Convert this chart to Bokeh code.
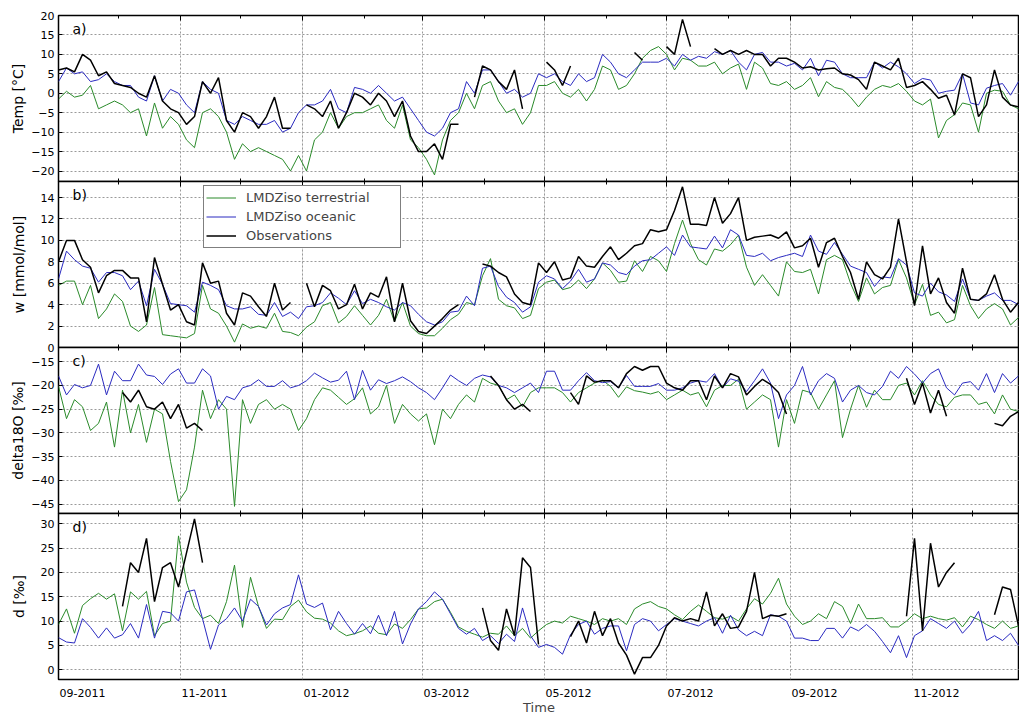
import pandas as pd
from bokeh.plotting import figure
from bokeh.layouts import column
from bokeh.models import (Range1d, FixedTicker, Grid, Legend, LegendItem, Label,
                          CustomJSTickFormatter, LinearAxis)
from bokeh.embed import file_html
from bokeh.resources import INLINE

nan = float("nan")

# sampling dates (every 4 days from 1 Sep 2011)
dates = pd.date_range("2011-09-01", periods=121, freq="4D")

# ---- panel a: temperature [degC]
temp_obs = ([6, 6.5, 5.5, 10, 8.5, 4.5, 5.5, 2.5, 2, 1.5,
             0, -1, 4.5, -2, -4, -5, -8, -6, 3, 0,
             4, -7, -10, -5, -6, -9, -6, -1, -9, -9,
             nan, -3, -4, -6, -2, -9, -5, 0, -1, -3,
             0, -2, -6, -2, -11, -15, -15, -13, -17, -8,
             -8, nan, -1, 7, 6, 3, 1, 6, -4, nan,
             nan, 8, 6, 2, 7, nan, nan, nan, nan, nan,
             nan, nan, 10.5, 8.5, nan, nan, 12, 10, 19, 12,
             nan, nan, 11.5, 10, 11, 10, 11, 10, 10, 7,
             9, 9, 8, 6.5, 6.8, 6, 6.3, 6.5, 5, 4.7,
             3.5, 1, 8, 7, 6, 9, 1.5, 2, 3, 1,
             -1.3, -0.5, -5.6, 5, 4, -6, -3, 6, -1, -3,
             -3.5])
temp_ocean = [3, 6.5, 5, 5.5, 3, 3.5, 5, 3, 2, 2,
              -1, -2, 4.5, -2, 1, 0, -3, -5, 3, 1,
              0, -7, -8, -6, -7, -8, -8, -7, -10, -9,
              -5, -3, -3, -2, 1, -4, -5, 1.5, 1, 0,
              2, 0, -2, -1, -4, -7, -10, -11, -9, -5,
              -4, 3, 0, 6, 6, 3, 0, 1, -1, 0,
              5, 4, 5, 3, 2, 5, 3, 4, 10, 8,
              5, 4, 6, 8, 8, 8, 9, 7, 10, 8.5,
              9.5, 9, 10.7, 10, 11, 8, 6, 10, 10.5, 8,
              8, 7, 7.7, 6, 9, 4.5, 8.5, 8, 5, 4,
              4, 4, 8, 6.5, 8, 6.8, 5, 2.5, 3.8, 3.4,
              0, 0.5, 0.8, 5, -2.5, -3, 1.3, 2, 2.5, -0.5,
              3]
temp_terr = [-1.5, 0.5, -1, -0.5, 2, -4, -3, -2, -3, -5,
             -4, -11, -2.5, -9, -6, -8, -12, -14, -5, -4,
             -6, -10, -17, -13, -15, -14, -15, -16, -17, -20,
             -16, -20, -12, -10, -5, -9, -6, -5, -5, -4,
             -3, -7, -9, -3, -12, -14, -17, -21, -12, -7,
             -5, 0, -4, 2, 3, -2, -5, -4, -8, -5,
             2, 2, 3, 0, -1, 1, -2, 1, 7, 6,
             1, 2, 5, 9, 11, 12, 10, 6, 9, 8.5,
             7, 7, 8, 5, 6.5, 7.5, 1, 8, 6.5, 2.5,
             2, 3, 1, 2, 4, -0.9, 3, 1.5, 1, -1,
             -3.5, -1, 1, 2, 1.5, 2.5, 0.5, -2, -3, -1.5,
             -11.5, -7, -5.5, -2.5, -3, -10, 0, 0.8, 0.5, -3,
             -4]

# ---- panel b: humidity w [mmol/mol]
w_obs = [8, 10, 10, 8.2, 7.5, 5.1, 6.7, 7.2, 7.2, 6.5,
         6.5, 2.4, 8.4, 5.9, 3.5, 4, 2.4, 2.1, 7.9, 6,
         6.2, 3.2, 2.1, 5.1, 4.8, 3.8, 2.9, 6, 3.5, 4.2,
         nan, 6, 3.8, 5.8, 5.3, 3.6, 4, 5.9, 3.6, 5.1,
         4.7, 6.6, 2.4, 6, 2.5, 1.5, 1.3, 2, 2.7, 3.5,
         4, nan, nan, 7.8, 7.6, 7, 6.6, 5, 4.2, 4,
         7.9, 7, 8, 6.3, 6.5, 8.5, 7.6, 7.5, 8.5, 9.4,
         8.2, 8.8, 9.5, 9.7, 11, 10.8, 11, 12.8, 15, 11.5,
         11.5, 11.4, 14, 11.6, 12.5, 14, 10, 10.3, 10.4, 10.5,
         10.2, 10.8, 9.3, 9.5, 10.2, 7.5, 9.8, 10.2, 8.5, 7,
         4.5, 8, 6.8, 6.4, 7.5, 12, 8, 3.9, 9.5, 5,
         6.5, 4.2, 3.2, 7.4, 4.5, 4.4, 5, 6.8, 4.5, 3.3,
         4.2]
w_ocean = [6.4, 9, 8.2, 7.6, 7.4, 6.1, 7, 7, 6.7, 5.4,
           6.2, 3.9, 7.3, 5.9, 4.1, 4, 3.9, 3.3, 6.1, 5.8,
           5.4, 3.9, 3.6, 3.6, 3.8, 3.1, 3, 4.2, 2.9, 3.3,
           2.7, 3.8, 3.9, 4.2, 5.1, 4.6, 4, 5.3, 4.1, 4.5,
           4.2, 3.8, 3.5, 4.2, 3.9, 3.1, 2.4, 2.1, 2.4, 3.3,
           3.4, 4.8, 3.9, 7.4, 7.6, 5.7, 4.7, 4.2, 3.3, 3.8,
           6.1, 6.7, 6.4, 5.5, 6.2, 7.3, 6.1, 6.4, 7.9, 7.7,
           7, 6.8, 7.6, 8.1, 8.2, 8.8, 9.4, 8.6, 10.5, 9.4,
           9.3, 9.2, 10.4, 9.3, 11, 10.5, 8.6, 8.5, 8.8, 8.1,
           8.4, 8.6, 8.8, 8.5, 10.5, 9, 8.7, 9.8, 8.7, 7.6,
           7.3, 7, 5.7, 6.6, 6.5, 8.3, 7.7, 5.1, 4.8, 6,
           5.2, 4.9, 4.3, 6.4, 4.5, 4.4, 4.8, 5.1, 4.4, 4.4,
           4]
w_terr = [5.8, 6.2, 6.2, 4, 5.8, 2.7, 3.6, 5, 4.3, 2,
          1.5, 2.1, 5.6, 1.2, 1.1, 1, 0.9, 1.3, 5.8, 3.6,
          3.2, 2, 0.5, 2.2, 1.8, 2, 1.8, 3.2, 1.5, 1.4,
          1.1, 1.9, 2.4, 3.9, 4.2, 2.3, 2.9, 3.9, 3, 2.1,
          3, 4.5, 2.4, 4.2, 2, 1.3, 1.1, 1.1, 1.8, 2.6,
          3.1, 4.2, 4, 6.7, 8.3, 4.5, 3.9, 3.7, 2.7, 3,
          5.5, 6.1, 6.3, 5.4, 5.6, 6.3, 5.5, 6.4, 7.9, 7.2,
          6.1, 6.2, 8.1, 7.1, 8.5, 8.1, 7.1, 9.7, 11.9, 9.7,
          8.2, 7.7, 9.2, 9, 9.6, 10.5, 7.5, 5.8, 6.8, 5.8,
          4.8, 8, 7.1, 7, 7.3, 5, 8.2, 8.6, 8.2, 6,
          4.3, 6.5, 5, 5.6, 5.8, 8.2, 6.5, 4, 5.9, 3,
          3.3, 2.3, 2.6, 5.8, 3.9, 2.7, 3.6, 4.1, 3.6, 2.1,
          2.8]

# ---- panel c: delta18O [permil]
d18o_obs = ([nan] * 8 + [-21.5, -23.5,
             -21, -24.5, -25, -23.5, -27, -24, -29, -28, -29.5, nan]
            + [nan] * 30
            + [nan, nan, nan, nan, -18, -20, -23, -25, -24, -25.5,
               nan, nan, nan, nan, -21.5, -24, -18, -19.3, -19, -19,
               -20.5, -17.5, -16, -16.8, -16, -16, -19.5, -20.5, -21, -19,
               -19, -23, -18, -20.5, -17.5, -18.2, -22, -20.2, -18.7, -19.8,
               -21.5, -26] + [nan] * 8
            + [nan] * 6 + [-18.5, -24, -19.5, -25.8,
               -21, -26.5, nan, nan, nan, nan, nan, -28, -28.5, -26.5,
               -25.5])
d18o_ocean = [-18, -22, -19.8, -20.5, -20, -15.5, -22, -17, -19, -19,
              -15.5, -17.8, -18.1, -19.8, -17.6, -16.5, -19.5, -19.5, -16.5, -18,
              -25, -22.3, -23, -20.5, -20, -18.8, -20.2, -20.2, -19, -20.5,
              -20, -19, -17.4, -18.4, -19.3, -18.9, -17, -23, -16.8, -21,
              -18.8, -19.6, -19, -18.2, -19.2, -20.5, -21.5, -23, -20.5, -17.8,
              -19, -20, -18.5, -17.8, -18.2, -20, -20.5, -21.5, -20.5, -19.5,
              -21.5, -17, -17, -21, -21, -19, -17.3, -19, -19.4, -19.2,
              -20.5, -17.9, -20.2, -20.2, -20.2, -19.6, -21, -21, -20.5, -19.5,
              -19, -19.3, -17.5, -20.5, -18.6, -19.1, -21.3, -19, -16.5, -19.5,
              -27, -22, -20, -16, -22, -19, -17.5, -18.5, -23.5, -21,
              -20, -21.5, -22, -20.2, -17, -18.5, -16, -17.6, -19.5, -17.5,
              -16.5, -20.5, -22, -19.5, -19.2, -21, -17.5, -21.5, -17.5, -19.5,
              -18]
d18o_terr = [-20.2, -27, -23, -24.5, -29.5, -28, -23.5, -33, -21, -30,
             -24, -32, -25, -26, -36, -44.5, -42, -33, -21, -27,
             -23, -25, -45.5, -23, -28, -24, -23, -25, -24, -25,
             -29.5, -27, -23, -20.5, -21, -22.5, -24, -22.8, -20.5, -26,
             -24.5, -20, -28, -24, -26, -27.5, -26, -32.5, -25, -27,
             -24, -22, -23.5, -18.5, -19.5, -20, -23, -22, -24.5, -21.5,
             -20.5, -20.5, -20.5, -21.5, -23.5, -21.5, -20.5, -19.5, -18.9, -20.2,
             -22.5, -20.3, -21.1, -21.4, -21.8, -21.3, -23, -22, -21, -22,
             -21.5, -24.5, -21, -20, -20, -18.7, -25, -23.5, -22, -23,
             -33, -23, -28, -21, -21.5, -25, -22, -19, -31, -25,
             -20, -24.6, -21, -23, -23, -20, -19.5, -22, -19, -22,
             -24, -24.5, -22.5, -22, -22, -24, -23.5, -26, -22, -25,
             -25.5]

# ---- panel d: deuterium excess d [permil]
dex_obs = ([nan] * 8 + [13, 22,
            20, 27, 14, 21, 22, 17, 24, 31, 22, nan]
           + [nan] * 30
           + [nan, nan, nan, 12.7, 6, 4, 12.5, 7, 23, 21,
              5.2, nan, nan, nan, 6.8, 10, 5.5, 12, 7, 10.5,
              5.5, 3, -0.9, 2.5, 2.5, 5, 9, 10.7, 10, 10.5,
              10, 16, 9, 11.5, 8.5, 8.8, 12, 20, 10.5, 11.2,
              11, 11.5] + [nan] * 8
           + [nan] * 6 + [11, 27, 8, 26,
              17, 20, 22, nan, nan, nan, nan, 11.3, 17, 16.5,
              9])
dex_ocean = [6.6, 5.7, 5.5, 10.5, 8.7, 6.5, 8.6, 6.5, 7.2, 9.5,
             6.5, 13.4, 6.5, 12, 11.7, 10, 16, 16.4, 10.5, 4.2,
             9.2, 10.5, 12.7, 10, 14.5, 13, 9.2, 11.5, 12.7, 13.4,
             19.5, 13.5, 12.8, 13.7, 8.2, 12, 9.5, 7.3, 9.5, 7.4,
             11.2, 7, 12, 5.3, 9.4, 12.5, 14, 16, 14.5, 11.5,
             8.5, 7.3, 8.5, 6, 7, 5.4, 7.3, 5.8, 12.7, 7,
             4.6, 5.2, 4.6, 3.2, 7.2, 9.3, 10, 7.3, 8.5, 9,
             9, 3.9, 9.3, 10.5, 10, 8, 9.3, 10.5, 10, 9.5,
             9, 10, 10.7, 7.5, 11.2, 8.2, 7, 7.9, 7, 11.3,
             11, 10, 6.5, 6.5, 6, 6, 8.5, 8.5, 6.5, 8.8,
             8, 9.3, 7.9, 5.8, 3.5, 7, 2.5, 7, 8, 10.5,
             9.5, 8.5, 10, 7.5, 9.3, 12, 6, 7, 6, 7.5,
             5]
dex_terr = [9.3, 12.5, 7.5, 13.2, 14.6, 15.7, 14.5, 15.6, 8, 16,
            14.5, 16.1, 7, 9.5, 10, 27.5, 18, 12.8, 10.5, 11.2,
            9.5, 14, 21.5, 8.7, 19, 13, 8.5, 10.4, 10.3, 13,
            14.3, 11.9, 10.6, 10.4, 9.6, 8, 7, 7.4, 8, 9,
            7.5, 7.2, 9.4, 8.5, 10.3, 12.5, 12.7, 14, 14.5, 11.8,
            8.8, 7.9, 7.3, 6.7, 7.5, 7.3, 9, 7, 8.5, 6.5,
            8, 9.3, 10, 9.6, 11, 10.5, 10, 9.3, 10.5, 10,
            10.5, 9.3, 12.5, 13.5, 14, 13, 12.5, 11.3, 10.3, 12,
            13.3, 12, 10.7, 10.4, 11, 10, 12.5, 14.6, 13.5, 15.7,
            18.8, 13.5, 11, 9.3, 10, 11.5, 10.5, 14, 13, 9.5,
            13.5, 10.5, 10.5, 10.7, 8.8, 8.8, 10, 11.5, 10.5, 11,
            10.5, 10.2, 10.7, 8.8, 11, 10.3, 9.3, 8.5, 10, 8.5,
            9]

panels = [
    dict(obs=temp_obs, ocean=temp_ocean, terr=temp_terr, lo=-22.7, hi=20,
         ticks=[-20, -15, -10, -5, 0, 5, 10, 15, 20], label="Temp [°C]", letter="a)"),
    dict(obs=w_obs, ocean=w_ocean, terr=w_terr, lo=0, hi=15.5,
         ticks=[0, 2, 4, 6, 8, 10, 12, 14], label="w [mmol/mol]", letter="b)"),
    dict(obs=d18o_obs, ocean=d18o_ocean, terr=d18o_terr, lo=-47, hi=-12,
         ticks=[-45, -40, -35, -30, -25, -20, -15], label="delta18O [‰]", letter="c)"),
    dict(obs=dex_obs, ocean=dex_ocean, terr=dex_terr, lo=-2, hi=32.1,
         ticks=[0, 5, 10, 15, 20, 25, 30], label="d [‰]", letter="d)"),
]
series_names = ["LMDZiso terrestrial", "LMDZiso oceanic", "Observations"]

FONT = "DejaVu Sans"
GREEN = "#2a8a2a"
BLUE = "#2a2ac0"
BLACK = "#000000"
GRID = "#9a9a9a"
DAY = 86400000.0


def ms(s):
    return pd.Timestamp(s).value / 1e6


xr = Range1d(ms("2011-09-01"), ms("2012-12-24 12:00"))
major_months = [t.value / 1e6 for t in pd.date_range("2011-09-01", "2012-12-01", freq="2MS")]
all_months = [t.value / 1e6 for t in pd.date_range("2011-09-01", "2012-12-01", freq="MS")]
label_pos = [m + 12 * DAY for m in major_months]

minus_fmt = CustomJSTickFormatter(code="return tick < 0 ? '\\u2212' + Math.abs(tick) : '' + tick;")
month_fmt = CustomJSTickFormatter(code="""
const d = new Date(tick);
const m = d.getUTCMonth() + 1;
return (m < 10 ? '0' : '') + m + '-' + d.getUTCFullYear();
""")


def tick_axis():
    # tick marks only (inward), no labels
    return LinearAxis(ticker=FixedTicker(ticks=major_months, minor_ticks=all_months),
                      formatter=CustomJSTickFormatter(code="return '';"),
                      major_tick_in=5, major_tick_out=0, minor_tick_in=3, minor_tick_out=0,
                      major_label_text_font_size="0px", major_label_standoff=0,
                      axis_line_color=None, major_tick_line_color="black",
                      minor_tick_line_color="black")


FH = 166
figs = []
for i, pd_ in enumerate(panels):
    bottom = i == 3
    p = figure(frame_width=961, frame_height=FH, x_range=xr,
               y_range=Range1d(pd_["lo"], pd_["hi"]),
               x_axis_type="datetime", x_axis_location="below" if bottom else None,
               output_backend="svg", toolbar_location=None,
               min_border_left=58, min_border_right=0,
               min_border_top=15 if i == 0 else 7,
               min_border_bottom=0 if bottom else 7,
               border_fill_color=None, background_fill_color="white",
               outline_line_color="black", outline_line_width=1.5,
               margin=(0, 0, 0, 0) if i == 0 else (-14, 0, 0, 0))

    ya = p.left[0]
    ya.ticker = FixedTicker(ticks=pd_["ticks"])
    ya.formatter = minus_fmt
    ya.major_tick_in = 4
    ya.major_tick_out = 0
    ya.major_tick_line_color = "black"
    ya.minor_tick_line_color = None
    ya.axis_line_color = None
    ya.major_label_standoff = 4
    ya.major_label_text_font = FONT
    ya.major_label_text_font_size = "11px"
    ya.major_label_text_color = "black"
    ya.axis_label = pd_["label"]
    ya.axis_label_text_font = FONT
    ya.axis_label_text_font_size = "14px"
    ya.axis_label_text_font_style = "normal"
    ya.axis_label_text_color = "black"
    ya.axis_label_standoff = 2 if i in (0, 2) else 11

    p.ygrid.grid_line_color = GRID
    p.ygrid.grid_line_dash = "2 2"
    p.ygrid.grid_line_width = 1

    if bottom:
        xa = p.below[0]
        xa.ticker = FixedTicker(ticks=label_pos)
        xa.formatter = month_fmt
        xa.major_tick_line_color = None
        xa.minor_tick_line_color = None
        xa.axis_line_color = None
        xa.major_label_standoff = 3
        xa.major_label_text_font = FONT
        xa.major_label_text_font_size = "11px"
        xa.major_label_text_color = "black"
        xa.axis_label = "Time"
        xa.axis_label_text_font = FONT
        xa.axis_label_text_font_size = "13px"
        xa.axis_label_text_font_style = "normal"
        xa.axis_label_standoff = 0
        p.xgrid.ticker = FixedTicker(ticks=major_months)
        p.xgrid.grid_line_color = GRID
        p.xgrid.grid_line_dash = "2 2"
    else:
        p.add_layout(tick_axis(), "below")
        p.add_layout(Grid(dimension=0, ticker=FixedTicker(ticks=major_months),
                          grid_line_color=GRID, grid_line_dash="2 2", grid_line_width=1))
    p.add_layout(tick_axis(), "above")

    rg = p.line(dates, pd_["terr"], line_color=GREEN, line_width=1)
    rb = p.line(dates, pd_["ocean"], line_color=BLUE, line_width=1)
    rk = p.line(dates, pd_["obs"], line_color=BLACK, line_width=1.5)

    p.add_layout(Label(x=ms("2011-09-08"), y=FH - 5, y_units="screen", text=pd_["letter"],
                       text_font=FONT, text_font_size="14px", text_baseline="top",
                       text_color="black"))

    if i == 1:
        leg = Legend(items=[LegendItem(label=series_names[0], renderers=[rg]),
                            LegendItem(label=series_names[1], renderers=[rb]),
                            LegendItem(label=series_names[2], renderers=[rk])],
                     location=(145, FH - 6 - 61), orientation="vertical",
                     padding=2, margin=0, spacing=0, label_height=19, glyph_height=19,
                     glyph_width=30, label_standoff=10, label_width=152,
                     label_text_font=FONT, label_text_font_size="13px",
                     border_line_color="black", border_line_width=1,
                     background_fill_color="white", background_fill_alpha=1.0)
        p.add_layout(leg)

    figs.append(p)

layout = column(*figs, spacing=0)
open("out.html", "w").write(file_html(layout, INLINE))
